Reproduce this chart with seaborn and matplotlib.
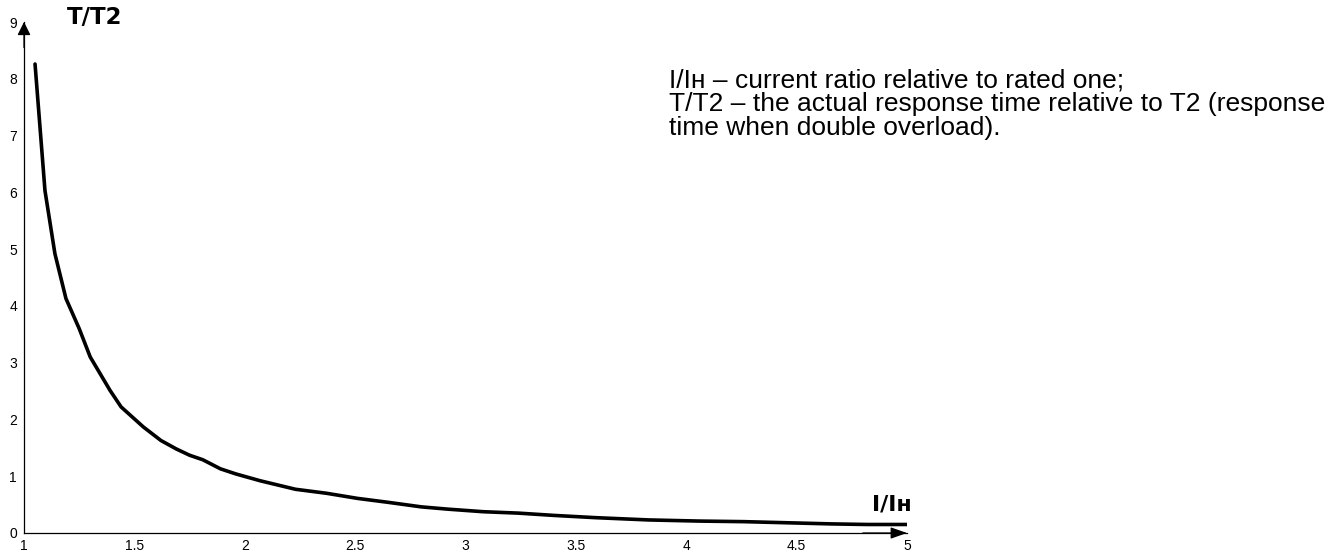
import numpy as np
import matplotlib
matplotlib.use("Agg")
import matplotlib.pyplot as plt
import seaborn as sns

# current ratio I/In and relative response time T/T2
current_ratio = [1.05, 1.095, 1.14, 1.19, 1.25, 1.30, 1.39, 1.44, 1.54, 1.62, 1.69,
                 1.75, 1.81, 1.89, 1.96, 2.07, 2.23, 2.37, 2.51, 2.65, 2.80, 2.92,
                 3.08, 3.24, 3.40, 3.59, 3.83, 4.06, 4.26, 4.46, 4.66, 4.82, 5.0]
time_ratio = [8.26, 6.03, 4.92, 4.13, 3.60, 3.10, 2.51, 2.22, 1.87, 1.63, 1.48,
              1.37, 1.29, 1.13, 1.04, 0.92, 0.77, 0.70, 0.61, 0.54, 0.46, 0.42,
              0.375, 0.35, 0.31, 0.27, 0.23, 0.21, 0.20, 0.18, 0.16, 0.15, 0.15]

x_ticks = [1, 1.5, 2, 2.5, 3, 3.5, 4, 4.5, 5]
x_tick_labels = ["1", "1.5", "2", "2.5", "3", "3.5", "4", "4.5", "5"]
y_ticks = [0, 1, 2, 3, 4, 5, 6, 7, 8, 9]

notes = ["I/Iн – current ratio relative to rated one;",
         "T/T2 – the actual response time relative to T2 (response",
         "time when double overload)."]

sns.set_style("white")
plt.rcParams["font.family"] = ["Liberation Sans", "DejaVu Sans"]
plt.rcParams["text.color"] = "black"

fig = plt.figure(figsize=(13.35, 5.51), dpi=100)
ax = fig.add_axes([24 / 1335, 18 / 551, 883 / 1335, 511 / 551])

sns.lineplot(x=current_ratio, y=time_ratio, color="black", linewidth=2.6, ax=ax)

ax.set_xlim(1, 5)
ax.set_ylim(0, 9)
ax.set_xticks(x_ticks)
ax.set_xticklabels(x_tick_labels)
ax.set_yticks(y_ticks)
ax.tick_params(axis="both", length=0, labelsize=10, colors="black")
ax.tick_params(axis="x", pad=4.5)
ax.tick_params(axis="y", pad=5)
for side in ["top", "right"]:
    ax.spines[side].set_visible(False)
for side in ["left", "bottom"]:
    ax.spines[side].set_color("black")
    ax.spines[side].set_linewidth(0.9)

# arrow heads on the axes
ax.annotate("", xy=(1, 0), xytext=(0.95, 0), xycoords="axes fraction",
            arrowprops=dict(arrowstyle="-|>,head_length=1.0,head_width=0.35",
                            mutation_scale=10, color="black", lw=0.9,
                            shrinkA=0, shrinkB=0), annotation_clip=False)
ax.annotate("", xy=(0, 1), xytext=(0, 0.95), xycoords="axes fraction",
            arrowprops=dict(arrowstyle="-|>,head_length=0.8,head_width=0.4",
                            mutation_scale=10, color="black", lw=0.9,
                            shrinkA=0, shrinkB=0), annotation_clip=False)

fig.text(95 / 1335, 1 - 18 / 551, "T/T2", fontsize=16.5, fontweight="bold",
         family=["DejaVu Sans"], ha="center", va="center")
fig.text(892 / 1335, 1 - 505 / 551, "I/Iн", fontsize=16, fontweight="bold",
         family=["DejaVu Sans"], ha="center", va="center")

for i, line in enumerate(notes):
    fig.text(669 / 1335, 1 - (88 + 23.5 * i) / 551, line, fontsize=19,
             ha="left", va="baseline")

fig.savefig("out.png", dpi=100)
